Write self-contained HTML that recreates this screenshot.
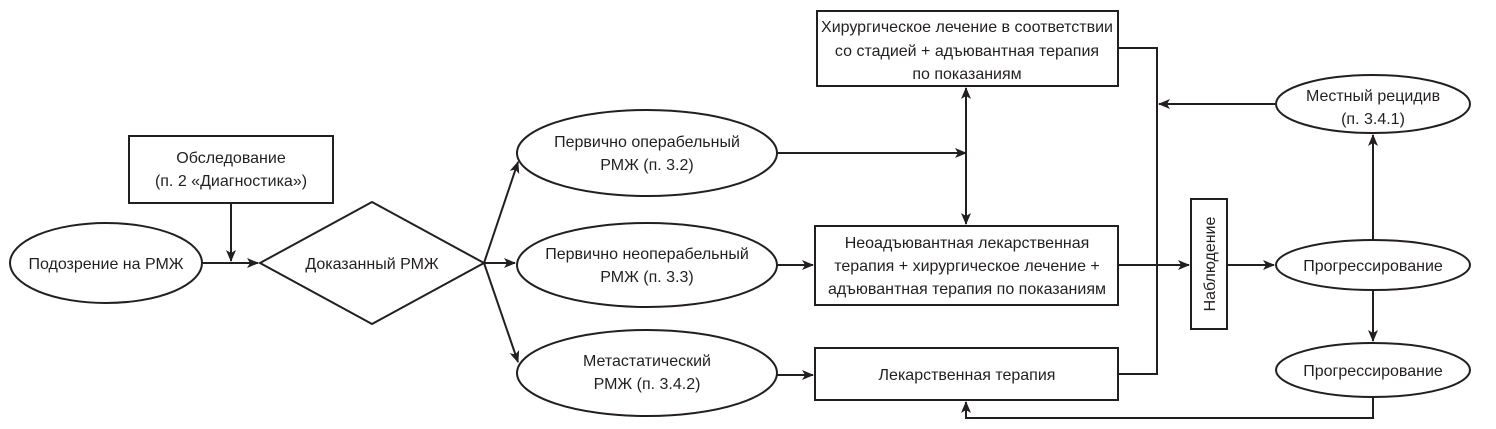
<!DOCTYPE html>
<html><head><meta charset="utf-8"><style>
html,body{margin:0;padding:0;background:#fff;}
svg{display:block;}
text{font-family:"Liberation Sans Narrow","Liberation Sans",sans-serif;font-size:16px;fill:#231f20;text-anchor:middle;}
</style></head><body>
<svg width="1496" height="429" viewBox="0 0 1496 429" xmlns="http://www.w3.org/2000/svg">
<defs><marker id="a" markerWidth="12" markerHeight="10" refX="11" refY="5" orient="auto" markerUnits="userSpaceOnUse"><path d="M0,0 L12,5 L0,10 L3,5 z" fill="#231f20"/></marker></defs>
<g stroke="#231f20" stroke-width="2" fill="none">
<rect x="129" y="136" width="204" height="67"/>
<ellipse cx="106" cy="263" rx="96" ry="40"/>
<polygon points="260,263 372,202 484,263 372,324"/>
<ellipse cx="647" cy="153" rx="130" ry="43"/>
<ellipse cx="647" cy="265" rx="130" ry="42"/>
<ellipse cx="647" cy="373" rx="130" ry="43"/>
<rect x="817" y="11" width="301" height="75"/>
<rect x="815" y="226" width="303" height="79"/>
<rect x="815" y="348" width="303" height="52"/>
<rect x="1191" y="199" width="36" height="130"/>
<ellipse cx="1373" cy="104" rx="97" ry="29"/>
<ellipse cx="1373" cy="265" rx="97" ry="25"/>
<ellipse cx="1373" cy="370" rx="97" ry="27"/>
</g>
<g stroke="#231f20" stroke-width="2" fill="none" marker-end="url(#a)">
<line x1="202" y1="263" x2="258" y2="263"/>
<line x1="231" y1="203" x2="231" y2="261"/>
<line x1="484" y1="263" x2="518" y2="162"/>
<line x1="484" y1="263" x2="515" y2="263"/>
<line x1="484" y1="263" x2="518" y2="362"/>
<line x1="777" y1="153" x2="966" y2="153"/>
<line x1="777" y1="265" x2="813" y2="265"/>
<line x1="777" y1="375" x2="813" y2="375"/>
<line x1="966" y1="153" x2="966" y2="88"/>
<line x1="966" y1="153" x2="966" y2="224"/>
<line x1="1118" y1="265" x2="1189" y2="265"/>
<line x1="1227" y1="265" x2="1274" y2="265"/>
<line x1="1275" y1="104" x2="1159" y2="104"/>
<line x1="1373" y1="240" x2="1373" y2="135"/>
<line x1="1373" y1="290" x2="1373" y2="341"/>
<polyline points="1373,397 1373,418 966,418 966,402"/>
</g>
<g stroke="#231f20" stroke-width="2" fill="none">
<polyline points="1118,48 1157,48 1157,374 1118,374"/>
</g>
<text x="231" y="163">Обследование</text>
<text x="231" y="186">(п. 2 «Диагностика»)</text>
<text x="106" y="269">Подозрение на РМЖ</text>
<text x="372" y="269">Доказанный РМЖ</text>
<text x="647" y="147">Первично операбельный</text>
<text x="647" y="170">РМЖ (п. 3.2)</text>
<text x="647" y="259">Первично неоперабельный</text>
<text x="647" y="282">РМЖ (п. 3.3)</text>
<text x="647" y="366">Метастатический</text>
<text x="647" y="389">РМЖ (п. 3.4.2)</text>
<text x="967" y="32">Хирургическое лечение в соответствии</text>
<text x="967" y="56">со стадией + адъювантная терапия</text>
<text x="967" y="79">по показаниям</text>
<text x="967" y="248">Неоадъювантная лекарственная</text>
<text x="967" y="271">терапия + хирургическое лечение +</text>
<text x="967" y="294">адъювантная терапия по показаниям</text>
<text x="967" y="380">Лекарственная терапия</text>
<text x="1373" y="101">Местный рецидив</text>
<text x="1373" y="124">(п. 3.4.1)</text>
<text x="1373" y="271">Прогрессирование</text>
<text x="1373" y="376">Прогрессирование</text>
<text transform="translate(1215,264) rotate(-90)">Наблюдение</text>
</svg>
</body></html>
